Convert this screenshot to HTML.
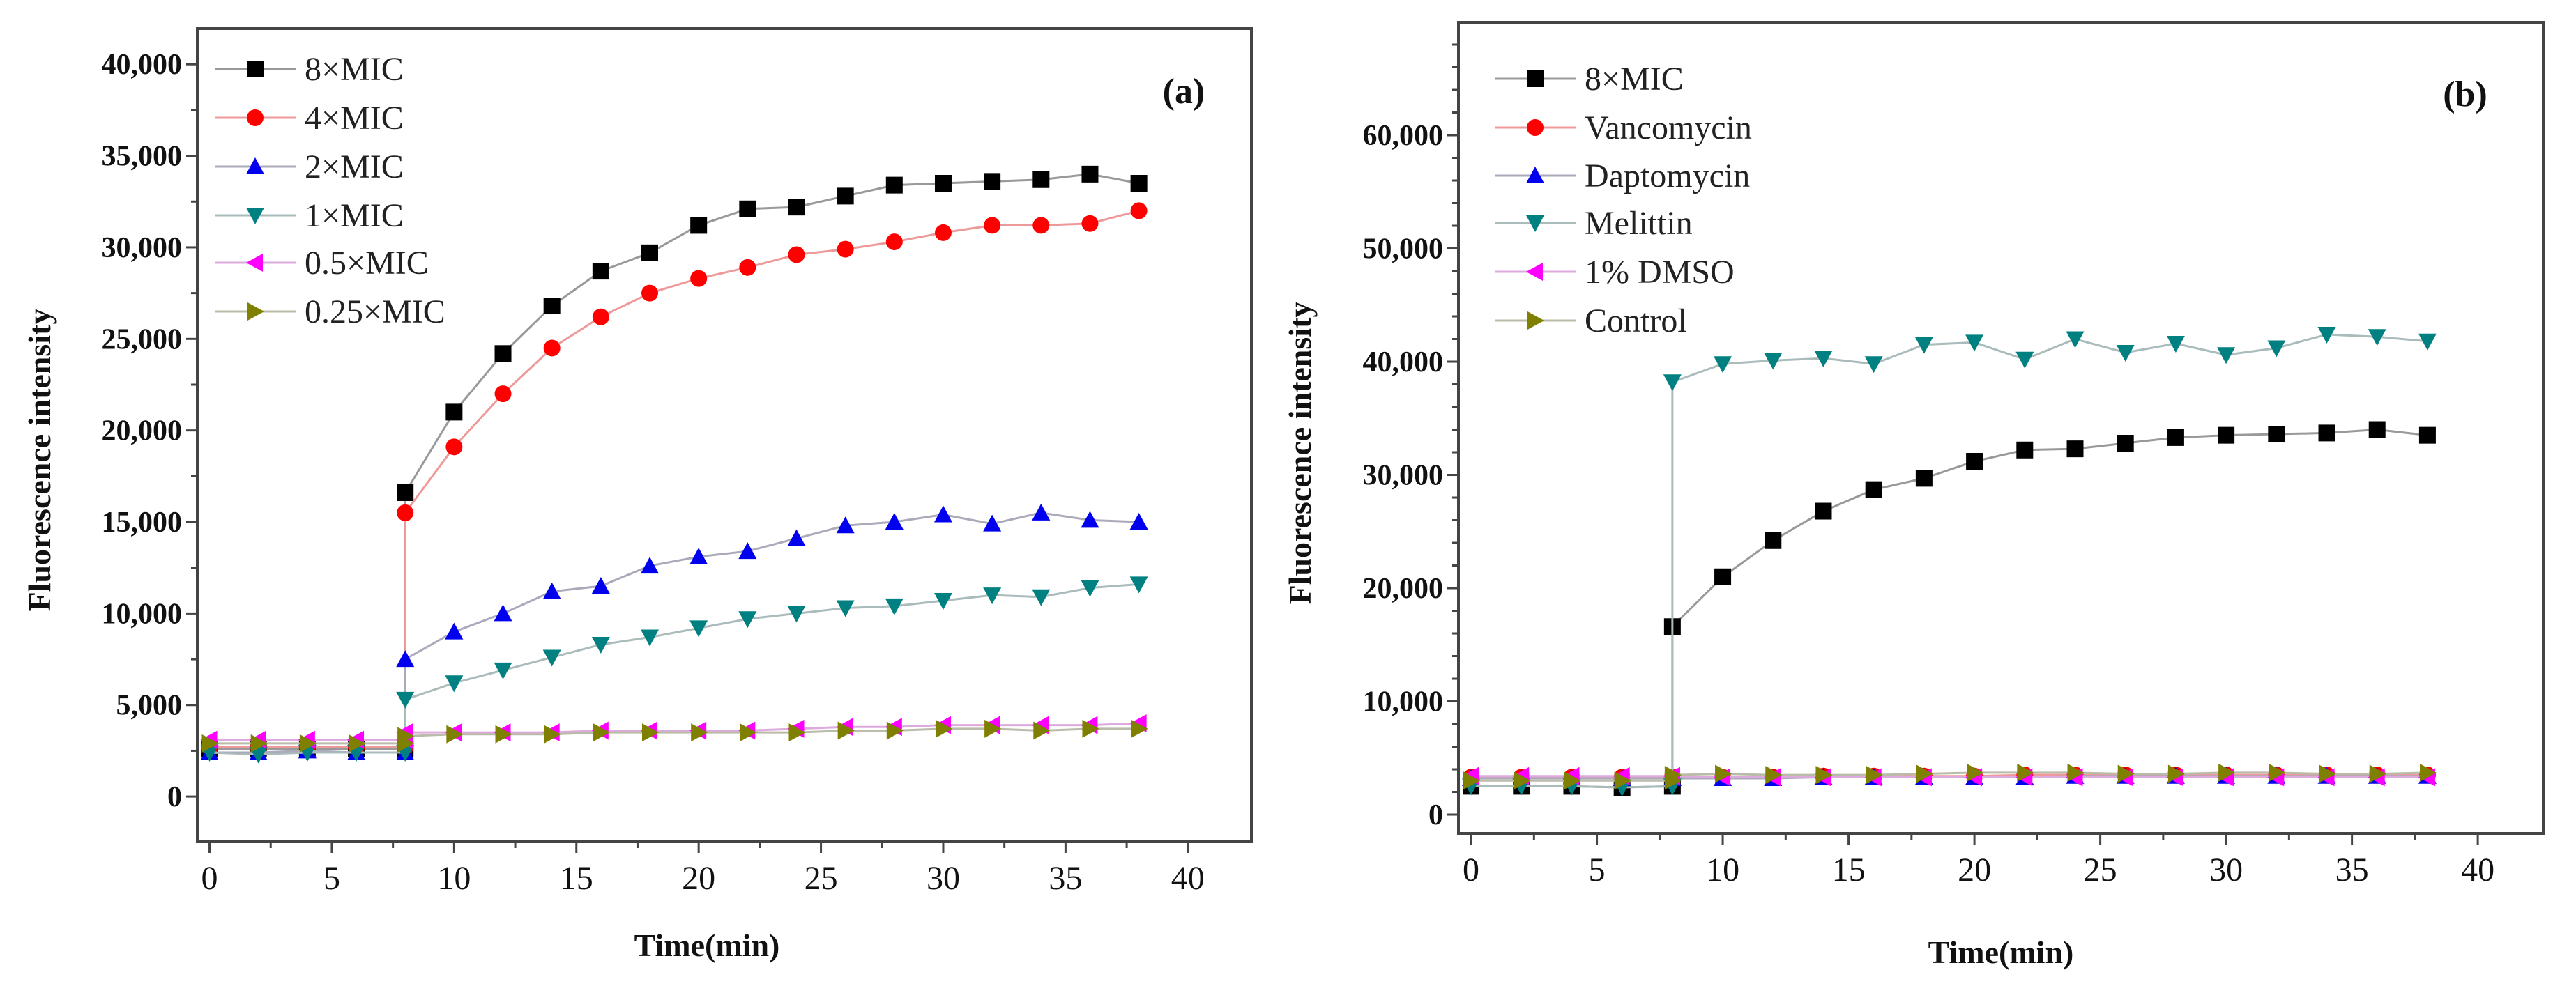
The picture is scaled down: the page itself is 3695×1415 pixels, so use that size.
<!DOCTYPE html>
<html><head><meta charset="utf-8"><style>
html,body{margin:0;padding:0;background:#fff;}
svg{display:block;}
svg text{font-family:"Liberation Serif","Times New Roman",serif;}
</style></head><body>
<svg id="chart" width="3695" height="1415" viewBox="0 0 3695 1415" xmlns="http://www.w3.org/2000/svg"></svg>
<script>
// ---------- Data ----------
const timesA = [0,2,4,6,8,8,10,12,14,16,18,20,22,24,26,28,30,32,34,36,38];
const mic8 = [2600,2600,2600,2600,2600,16600,21000,24200,26800,28700,29700,31200,32100,32200,32800,33400,33500,33600,33700,34000,33500];
const mic4 = [2700,2700,2700,2700,2700,15500,19100,22000,24500,26200,27500,28300,28900,29600,29900,30300,30800,31200,31200,31300,32000];
const mic2 = [2400,2400,2500,2400,2400,7500,9000,10000,11200,11500,12600,13100,13400,14100,14800,15000,15400,14900,15500,15100,15000];
const mic1 = [2400,2300,2400,2400,2400,5300,6200,6900,7600,8300,8700,9200,9700,10000,10300,10400,10700,11000,10900,11400,11600];
const mic05 = [3100,3100,3100,3100,3100,3500,3500,3500,3500,3600,3600,3600,3600,3700,3800,3800,3900,3900,3900,3900,4000];
const mic025 = [2900,2900,2900,2900,2900,3300,3400,3400,3400,3500,3500,3500,3500,3500,3600,3600,3700,3700,3600,3700,3700];
const timesB = [0,2,4,6,8,8,10,12,14,16,18,20,22,24,26,28,30,32,34,36,38];
const bMic8 = [2500,2500,2500,2400,2500,16600,21000,24200,26800,28700,29700,31200,32200,32300,32800,33300,33500,33600,33700,34000,33500];
const vanco = [3300,3300,3300,3300,3300,3300,3300,3300,3400,3400,3400,3400,3500,3500,3500,3500,3500,3500,3500,3500,3500];
const dapto = [3200,3200,3200,3200,3200,3200,3200,3200,3300,3300,3300,3300,3300,3400,3400,3400,3400,3400,3400,3400,3400];
const melittin = [2500,2500,2500,2400,2500,38200,39800,40100,40300,39800,41500,41700,40200,42000,40800,41600,40600,41200,42400,42200,41800];
const dmso = [3400,3400,3400,3400,3400,3400,3300,3300,3300,3300,3300,3300,3300,3300,3300,3300,3300,3300,3300,3300,3300];
const control = [3000,3000,3000,3000,3000,3500,3600,3500,3500,3500,3600,3700,3700,3700,3600,3600,3700,3700,3600,3600,3700];
const xTicks = [0,5,10,15,20,25,30,35,40];
const yTicksA = [0,5000,10000,15000,20000,25000,30000,35000,40000];
const yTicksB = [0,10000,20000,30000,40000,50000,60000];
const legendA = ["8×MIC","4×MIC","2×MIC","1×MIC","0.5×MIC","0.25×MIC"];
const legendB = ["8×MIC","Vancomycin","Daptomycin","Melittin","1% DMSO","Control"];

const NS="http://www.w3.org/2000/svg";
const svg=document.getElementById('chart');
const FONT='"Liberation Serif", serif';
function mk(tag,attrs,parent){const e=document.createElementNS(NS,tag);for(const k in attrs)e.setAttribute(k,attrs[k]);if(tag==='text')e.setAttribute('font-family',FONT);(parent||svg).appendChild(e);return e;}
function fmt(v){return v.toLocaleString('en-US');}

const styles=[
 {c:'#000000',m:'square',l:'#999'},
 {c:'#ff0000',m:'circle',l:'#e99'},
 {c:'#0000ee',m:'up',l:'#aab'},
 {c:'#008080',m:'down',l:'#abb'},
 {c:'#ff00ff',m:'left',l:'#dad'},
 {c:'#808000',m:'right',l:'#bba'}];

function marker(g,type,x,y,color){
  const s=13;let el;
  if(type==='square') el=mk('rect',{x:x-s+1,y:y-s+1,width:2*s-2,height:2*s-2,fill:color},g);
  else if(type==='circle') el=mk('circle',{cx:x,cy:y,r:s-1,fill:color},g);
  else{let p;
    if(type==='up') p=[[x,y-s],[x+s,y+s-2],[x-s,y+s-2]];
    if(type==='down') p=[[x,y+s],[x+s,y-s+2],[x-s,y-s+2]];
    if(type==='left') p=[[x-s,y],[x+s-2,y-s],[x+s-2,y+s]];
    if(type==='right') p=[[x+s,y],[x-s+2,y-s],[x-s+2,y+s]];
    el=mk('polygon',{points:p.map(a=>a.join(',')).join(' '),fill:color},g);}
  return el;
}

function panel(cfg){
  const g=mk('g',{});
  
  
  const X=v=>cfg.x0+(v-cfg.xmin)/(cfg.xmax-cfg.xmin)*(cfg.x1-cfg.x0);
  const Y=v=>cfg.y1-(v-cfg.ymin)/(cfg.ymax-cfg.ymin)*(cfg.y1-cfg.y0);
  const fr=mk('rect',{x:cfg.x0,y:cfg.y0,width:cfg.x1-cfg.x0,height:cfg.y1-cfg.y0,fill:'none',stroke:'#444','stroke-width':4},g);
  
  for(let v=0;v<=40;v+=2.5){const major=v%5===0;mk('line',{x1:X(v),x2:X(v),y1:cfg.y1,y2:cfg.y1+(major?16:9),stroke:'#444','stroke-width':3},g);}
  xTicks.forEach(v=>{const t=mk('text',{x:X(v),y:cfg.y1+68,'font-size':48,'text-anchor':'middle',fill:'#111'},g);t.textContent=v;
    });
  for(let v=0;v<=cfg.ymax;v+=cfg.minor){const major=v%cfg.major===0;mk('line',{x1:cfg.x0,x2:cfg.x0-(major?16:9),y1:Y(v),y2:Y(v),stroke:'#444','stroke-width':3},g);}
  cfg.yt.forEach(v=>{const t=mk('text',{x:cfg.x0-22,y:Y(v)+14,'font-size':42,'font-weight':'bold','text-anchor':'end',fill:'#111'},g);t.textContent=fmt(v);
    });
  const xt=mk('text',{x:cfg.xtX,y:cfg.xtY,'font-size':46,'font-weight':'bold','text-anchor':'middle',fill:'#111'},g);xt.textContent='Time(min)';
  
  const yt=mk('text',{x:0,y:0,'font-size':46,'font-weight':'bold','text-anchor':'middle',fill:'#111',transform:`translate(${cfg.ytX},${cfg.ytY}) rotate(-90)`},g);yt.textContent='Fluorescence intensity';
  
  const lb=mk('text',{x:cfg.labX,y:cfg.labY,'font-size':52,'font-weight':'bold','text-anchor':'middle',fill:'#111'},g);lb.textContent=cfg.label;
  
  cfg.series.forEach((s,i)=>{
    const st=styles[i];
    const sg=mk('g',{},g);
    
    
    const pts=s.map((v,j)=>X(cfg.t[j])+','+Y(v)).join(' ');
    mk('polyline',{points:pts,fill:'none',stroke:st.l,'stroke-width':3},sg);
    s.forEach((v,j)=>{const m=marker(sg,st.m,X(cfg.t[j]),Y(v),st.c);
      });
  });
  cfg.names.forEach((n,i)=>{
    const st=styles[i];const y=cfg.legY[i];
    const lg=mk('g',{},g);
    
    
    mk('line',{x1:cfg.legX,x2:cfg.legX+115,y1:y,y2:y,stroke:st.l,'stroke-width':3},lg);
    marker(lg,st.m,cfg.legX+57,y,st.c);
    const t=mk('text',{x:cfg.legX+128,y:y+16,'font-size':48,fill:'#222'},lg);t.textContent=n;
  });
}

panel({name:'panel-a',x0:283,x1:1795,y0:41,y1:1208,xmin:-0.5,xmax:42.6,ymin:-2470,ymax:41950,minor:2500,major:5000,
  yt:yTicksA,t:timesA,series:[mic8,mic4,mic2,mic1,mic05,mic025],names:legendA,
  legX:309,legY:[99,169,239,309,377,447],xtX:1014,xtY:1372,ytX:72,ytY:660,labX:1698,labY:148,label:'(a)'});
panel({name:'panel-b',x0:2092,x1:3648,y0:32,y1:1196,xmin:-0.5,xmax:42.6,ymin:-1660,ymax:69970,minor:2000,major:10000,
  yt:yTicksB,t:timesB,series:[bMic8,vanco,dapto,melittin,dmso,control],names:legendB,
  legX:2145,legY:[113,183,252,320,390,460],xtX:2870,xtY:1382,ytX:1880,ytY:650,labX:3536,labY:152,label:'(b)'});
</script>
</body></html>
